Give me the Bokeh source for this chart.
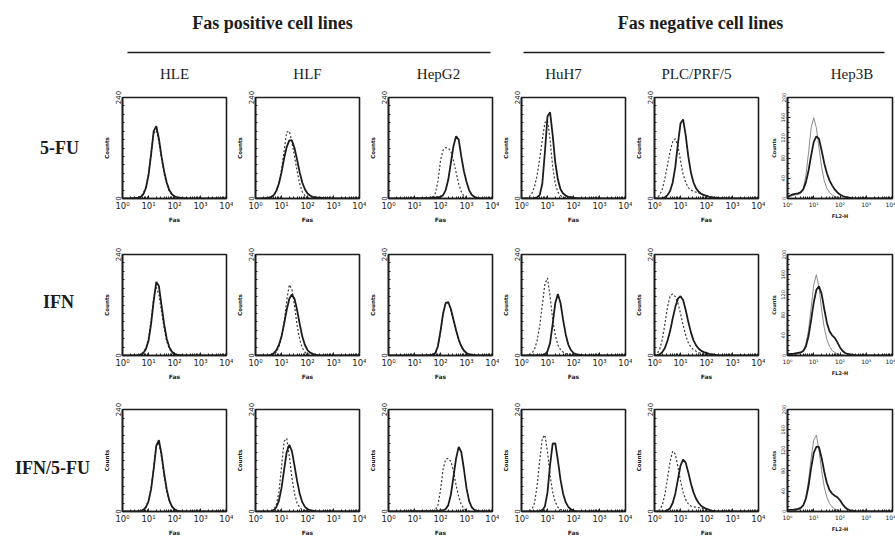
from bokeh.plotting import figure
from bokeh.layouts import row, column
from bokeh.models import Range1d, FixedTicker, CustomJSTickFormatter, Label
from bokeh.core.properties import value
from bokeh.embed import file_html
from bokeh.resources import INLINE

# ---------------- data ----------------
group_titles = ["Fas positive cell lines", "Fas negative cell lines"]
cell_lines = ["HLE", "HLF", "HepG2", "HuH7", "PLC/PRF/5", "Hep3B"]
treatments = ["5-FU", "IFN", "IFN/5-FU"]
x_labels = ["Fas", "Fas", "Fas", "Fas", "Fas", "FL2-H"]

# Fas fluorescence channels (log10 of intensity)
fas_log = [0.0, 0.1, 0.2, 0.3, 0.4, 0.5, 0.6, 0.7, 0.8, 0.9,
           1.0, 1.1, 1.2, 1.3, 1.4, 1.5, 1.6, 1.7, 1.8, 1.9,
           2.0, 2.1, 2.2, 2.3, 2.4, 2.5, 2.6, 2.7, 2.8, 2.9,
           3.0, 3.1, 3.2, 3.3, 3.4, 3.5, 3.6, 3.7, 3.8, 3.9, 4.0]
x_tick_values = [1, 10, 100, 1000, 10000]
count_ticks = [0, 240]
hep3b_count_ticks = [0, 40, 80, 120, 160, 200]

# row 1 : 5-FU   (solid = treated, dashed = control; counts per channel)
hle_5fu_solid = [0,0,0,0,1,1,2,4,10,25,55,105,160,172,142,100,65,38,20,10,5,3,2,1,1]
hle_5fu_dashed = [0,0,0,0,1,1,2,5,12,28,58,108,155,162,135,95,60,35,18,9,4,2,1,1]
hlf_5fu_solid = [0,0,0,1,1,2,4,8,18,35,62,95,122,138,138,120,92,62,38,22,12,7,4,3,2,2,1,1,1]
hlf_5fu_dashed = [0,0,0,0,1,1,3,7,16,35,68,112,158,160,135,100,65,35,16,7,3,2,1]
hepg2_5fu_solid = [0,0,0,0,0,0,0,0,0,0,1,1,1,1,1,1,2,2,2,3,4,8,20,45,85,125,148,140,100,65,40,20,9,4,2,1]
hepg2_5fu_dashed = [0,0,0,0,0,0,0,0,0,0,1,1,1,1,1,1,1,3,12,40,90,115,121,120,112,90,62,35,16,6,2,1]
huh7_5fu_solid = [0,0,0,0,0,1,3,8,35,110,195,205,150,85,45,22,12,7,4,3,2,1,1]
huh7_5fu_dashed = [0,0,1,4,12,28,55,95,140,180,185,140,75,35,15,7,3,2,1]
plc_5fu_solid = [0,0,0,1,3,8,18,38,75,130,178,188,150,100,62,38,24,16,11,8,6,4,3,2,2,1,1]
plc_5fu_dashed = [0,2,8,22,48,80,112,135,142,125,90,58,38,26,20,17,15,13,11,9,7,5,3,2,1]
hep3b_5fu_solid = [3,6,8,9,10,12,18,32,55,85,112,123,118,95,70,50,36,26,18,12,8,5,3,2,1]
hep3b_5fu_light = [2,4,6,7,8,10,20,45,90,140,160,140,100,62,35,20,12,7,4,2,1]

# row 2 : IFN
hle_ifn_solid = [0,0,0,0,0,0,1,2,6,15,35,75,130,175,165,120,75,40,20,9,4,2,1]
hle_ifn_dashed = [0,0,0,0,0,0,0,3,8,18,40,82,138,162,145,105,65,34,16,7,3,1]
hlf_ifn_solid = [0,0,0,0,0,0,2,5,12,25,45,75,108,135,145,135,108,75,45,25,13,7,4,2,1]
hlf_ifn_dashed = [0,0,0,0,0,0,0,3,8,20,42,80,130,168,158,118,72,38,18,8,4,2,1]
hepg2_ifn_solid = [0,0,0,0,0,0,0,0,0,0,0,0,0,0,0,1,1,2,6,22,58,100,125,127,110,85,60,38,22,12,6,3,2,1]
hepg2_ifn_dashed = [0,0,0,0,0,0,0,0,0,0,0,0,0,0,0,0,0,1,5,20,55,98,124,125,108,82,57,36,20,10,5,2,1]
huh7_ifn_solid = [0,0,0,0,0,0,0,0,1,3,10,30,75,125,146,125,85,50,26,13,6,3,2,1]
huh7_ifn_dashed = [0,0,0,1,5,15,35,70,120,170,184,140,85,48,25,14,8,5,3,2,1]
plc_ifn_solid = [0,1,3,8,18,35,58,88,115,135,141,132,108,80,55,36,24,16,11,8,6,4,3,2,1]
plc_ifn_dashed = [1,4,15,38,75,115,142,146,140,125,100,72,48,30,20,14,10,7,5,4,3,2,1]
hep3b_ifn_solid = [2,3,3,4,5,6,9,18,38,70,105,130,137,122,92,65,48,40,35,26,16,9,5,3,2,1]
hep3b_ifn_light = [0,0,0,2,3,5,10,22,50,95,140,160,135,90,55,32,18,10,6,3,2,1]

# row 3 : IFN/5-FU
hle_combo_solid = [0,0,0,0,0,0,0,1,4,10,24,52,100,155,168,135,90,52,26,12,5,2,1]
hle_combo_dashed = [0,0,0,0,0,0,0,1,4,11,26,55,105,155,162,128,84,48,24,11,4,2,1]
hlf_combo_solid = [0,0,0,0,0,0,1,3,10,25,55,98,140,157,142,108,72,42,22,11,6,3,2,1]
hlf_combo_dashed = [0,0,0,0,0,0,1,4,15,45,105,165,172,130,80,42,20,9,4,2,1]
hepg2_combo_solid = [0,0,0,0,0,0,0,0,0,0,1,1,1,1,1,1,1,1,1,1,2,3,6,15,40,82,125,152,140,100,55,25,10,4,2,1]
hepg2_combo_dashed = [0,0,0,0,0,0,0,0,0,0,1,1,1,1,1,1,1,1,3,15,50,100,123,125,118,95,62,35,16,7,3,1]
huh7_combo_solid = [0,0,0,0,0,0,0,1,3,12,45,110,160,160,120,75,42,22,11,5,2,1]
huh7_combo_dashed = [0,0,0,1,5,20,60,120,172,180,140,85,45,22,10,5,2,1]
plc_combo_solid = [0,0,0,0,1,3,8,20,42,75,108,122,115,92,66,45,30,20,13,9,6,4,2,1]
plc_combo_dashed = [0,1,4,15,40,78,118,142,135,105,72,45,28,18,13,11,10,9,8,6,5,3,2,1]
hep3b_combo_solid = [2,3,3,4,5,7,12,25,50,85,115,127,126,105,78,56,42,35,31,28,22,14,8,4,2,1]
hep3b_combo_light = [0,0,0,2,3,5,12,28,60,105,140,150,120,80,48,28,16,9,5,3,2,1]

solid_counts = [
    [hle_5fu_solid, hlf_5fu_solid, hepg2_5fu_solid, huh7_5fu_solid, plc_5fu_solid, hep3b_5fu_solid],
    [hle_ifn_solid, hlf_ifn_solid, hepg2_ifn_solid, huh7_ifn_solid, plc_ifn_solid, hep3b_ifn_solid],
    [hle_combo_solid, hlf_combo_solid, hepg2_combo_solid, huh7_combo_solid, plc_combo_solid, hep3b_combo_solid],
]
control_counts = [
    [hle_5fu_dashed, hlf_5fu_dashed, hepg2_5fu_dashed, huh7_5fu_dashed, plc_5fu_dashed, hep3b_5fu_light],
    [hle_ifn_dashed, hlf_ifn_dashed, hepg2_ifn_dashed, huh7_ifn_dashed, plc_ifn_dashed, hep3b_ifn_light],
    [hle_combo_dashed, hlf_combo_dashed, hepg2_combo_dashed, huh7_combo_dashed, plc_combo_dashed, hep3b_combo_light],
]

# ---------------- layout & style ----------------
BG = "#ffffff"
FRAME_BG = "#ffffff"
INK = "#1c1c1c"
SERIF = "Liberation Serif"
SANS = "DejaVu Sans"

HEADER_H = 85
LABEL_W = 100
BORDER_L = 22
PANEL_W = [133, 133, 133, 133, 133, 130]
BORDER_R = [7, 7, 7, 7, 7, 3]
ROW_TOP = [12, 24, 24]
ROW_FRAME = [101, 101, 102]
ROW_BOTTOM = [32, 30, 33]
LABEL_X = [59, 58, 52]
LABEL_Y = [0.5, 0.53, 0.43]
NAME_DX = [0, 0, -2, -10, -10, 12]
TITLE_X = [272, 700]

N = len(fas_log)
def channel(a):
    return (list(a) + [0] * N)[:N]

fas_x = [10 ** v for v in fas_log]

frame_left = []
pos = LABEL_W
for w in PANEL_W:
    frame_left.append(pos + BORDER_L)
    pos += w
frame_right = [frame_left[i] + PANEL_W[i] - BORDER_L - BORDER_R[i] for i in range(6)]
name_x = [(frame_left[i] + frame_right[i]) / 2 + NAME_DX[i] for i in range(6)]

# header
hdr = figure(width=895, height=HEADER_H, x_range=Range1d(0, 895), y_range=Range1d(HEADER_H, 0),
             x_axis_type=None, y_axis_type=None, output_backend="svg", toolbar_location=None,
             min_border=0, background_fill_color=BG, border_fill_color=BG, outline_line_color=None)
rule_x0 = [frame_left[0] + 5, frame_left[3] + 2]
rule_x1 = [frame_right[2] - 2, frame_right[5] - 8]
hdr.segment(x0=rule_x0, x1=rule_x1, y0=[52, 52], y1=[52, 52], line_color=INK, line_width=1.6)
hdr.text(x=TITLE_X, y=[22, 22], text=group_titles,
         text_font=value(SERIF), text_font_style="bold", text_font_size="18px",
         text_align="center", text_baseline="middle", text_color=INK)
hdr.text(x=name_x, y=[73] * 6, text=cell_lines, text_font=value(SERIF), text_font_size="15px",
         text_align="center", text_baseline="middle", text_color=INK)

tick_fmt = """
const sup = ['\u2070', '\u00b9', '\u00b2', '\u00b3', '\u2074'];
return '10' + sup[Math.round(Math.log10(tick))];
"""


def label_fig(ri):
    p = figure(width=LABEL_W, height=ROW_TOP[ri] + ROW_FRAME[ri] + ROW_BOTTOM[ri],
               x_range=Range1d(0, LABEL_W), y_range=Range1d(0, 1), x_axis_type=None, y_axis_type=None,
               output_backend="svg", toolbar_location=None,
               min_border_left=0, min_border_right=0, min_border_top=ROW_TOP[ri],
               min_border_bottom=ROW_BOTTOM[ri], background_fill_color=BG, border_fill_color=BG,
               outline_line_color=None)
    p.add_layout(Label(x=LABEL_X[ri], y=LABEL_Y[ri], text=treatments[ri], text_align="center",
                       text_baseline="middle", text_font=SERIF, text_font_style="bold",
                       text_font_size="18px", text_color=INK))
    return p


def panel(ri, ci):
    hep3b = cell_lines[ci] == "Hep3B"
    yt = hep3b_count_ticks if hep3b else count_ticks
    p = figure(width=PANEL_W[ci], height=ROW_TOP[ri] + ROW_FRAME[ri] + ROW_BOTTOM[ri],
               x_axis_type="log", x_range=Range1d(x_tick_values[0], x_tick_values[-1]),
               y_range=Range1d(0, yt[-1]), output_backend="svg", toolbar_location=None,
               min_border_left=BORDER_L, min_border_right=BORDER_R[ci],
               min_border_top=ROW_TOP[ri], min_border_bottom=ROW_BOTTOM[ri],
               background_fill_color=FRAME_BG, border_fill_color=BG,
               outline_line_color=INK, outline_line_width=1.6, outline_line_alpha=1.0)
    p.grid.visible = False
    if hep3b:
        p.line(fas_x, channel(control_counts[ri][ci]), line_color="#8a8a8a", line_width=1.0)
    else:
        p.line(fas_x, channel(control_counts[ri][ci]), line_color="#3a3a3a", line_width=1.2,
               line_dash="2 2")
    p.line(fas_x, channel(solid_counts[ri][ci]), line_color=INK, line_width=1.8)

    xa = p.xaxis[0]
    xa.ticker = FixedTicker(ticks=x_tick_values,
                            minor_ticks=[m * d for d in x_tick_values[:-1] for m in range(2, 10)])
    xa.formatter = CustomJSTickFormatter(code=tick_fmt)
    xa.axis_label = x_labels[ci]
    xa.major_label_text_font = SANS
    xa.major_label_text_font_size = "6px" if hep3b else "8.5px"
    xa.major_label_text_color = INK
    xa.major_label_standoff = 2
    xa.axis_label_text_font = SANS
    xa.axis_label_text_font_size = "5px" if hep3b else "6px"
    xa.axis_label_text_font_style = "bold"
    xa.axis_label_text_color = INK
    xa.axis_label_standoff = 2

    ya = p.yaxis[0]
    step = 10 if hep3b else 20
    ya.ticker = FixedTicker(ticks=yt, minor_ticks=list(range(0, yt[-1] + 1, step)))
    ya.major_label_orientation = "vertical"
    ya.major_label_text_font = SANS
    ya.major_label_text_font_size = "5px" if hep3b else "7px"
    ya.major_label_text_color = INK
    ya.major_label_standoff = 2
    ya.axis_label = "Counts"
    ya.axis_label_text_font = SANS
    ya.axis_label_text_font_size = "5px" if hep3b else "5.5px"
    ya.axis_label_text_font_style = "bold"
    ya.axis_label_text_color = INK
    ya.axis_label_standoff = 2

    for ax in (xa, ya):
        ax.axis_line_color = INK
        ax.axis_line_width = 1.6
        ax.major_tick_in = 3
        ax.major_tick_out = 0
        ax.minor_tick_in = 2
        ax.minor_tick_out = 0
        ax.major_tick_line_color = INK
        ax.minor_tick_line_color = INK
    return p


rows = [row(label_fig(ri), *[panel(ri, ci) for ci in range(6)]) for ri in range(3)]
layout = column(hdr, *rows)

open("out.html", "w").write(file_html(layout, INLINE))
